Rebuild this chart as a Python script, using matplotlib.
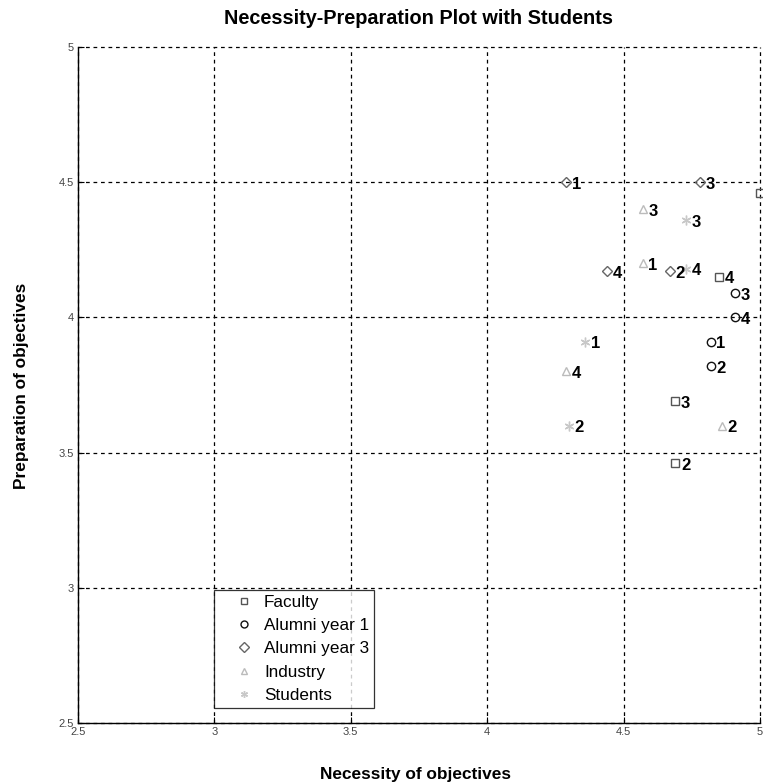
import matplotlib
matplotlib.use("Agg")
import matplotlib.pyplot as plt

plt.rcParams['font.family'] = ['Liberation Sans', 'DejaVu Sans']

groups = ["Faculty", "Alumni year 1", "Alumni year 3", "Industry", "Students"]
point_labels = ["1", "2", "3", "4"]

faculty_x = [5.00, 4.69, 4.69, 4.85]
faculty_y = [4.46, 3.46, 3.69, 4.15]
alumni1_x = [4.82, 4.82, 4.91, 4.91]
alumni1_y = [3.91, 3.82, 4.09, 4.00]
alumni3_x = [4.29, 4.67, 4.78, 4.44]
alumni3_y = [4.50, 4.17, 4.50, 4.17]
industry_x = [4.57, 4.86, 4.57, 4.29]
industry_y = [4.20, 3.60, 4.40, 3.80]
students_x = [4.36, 4.30, 4.73, 4.73]
students_y = [3.91, 3.60, 4.36, 4.18]

xs = [faculty_x, alumni1_x, alumni3_x, industry_x, students_x]
ys = [faculty_y, alumni1_y, alumni3_y, industry_y, students_y]
markers = ['s', 'o', 'D', '^', (6, 2, 0)]
msizes = [6, 6, 5, 6, 7]
colors = ['#555555', '#111111', '#666666', '#bbbbbb', '#c8c8c8']

fig = plt.figure(figsize=(7.63, 7.82), dpi=100)
ax = fig.add_axes([0.102, 0.0754, 0.894, 0.8646])

for gx, gy, m, ms, c, name in zip(xs, ys, markers, msizes, colors, groups):
    if isinstance(m, tuple):
        ax.plot(gx, gy, linestyle='none', marker=m, markersize=ms, color=c,
                markeredgewidth=1.0, label=name, clip_on=False, zorder=3)
    else:
        ax.plot(gx, gy, linestyle='none', marker=m, markersize=ms,
                markerfacecolor='none', markeredgecolor=c, markeredgewidth=1.0,
                label=name, clip_on=False, zorder=3)
    for px, py, lab in zip(gx, gy, point_labels):
        t = ax.annotate(lab, (px, py), xytext=(4, -1.5), textcoords='offset points',
                        ha='left', va='center', fontsize=12, fontweight='bold',
                        color='black', zorder=4)
        t.set_clip_on(True)

ax.set_xlim(2.5, 5)
ax.set_ylim(2.5, 5)
ax.set_xticks([2.5, 3, 3.5, 4, 4.5, 5])
ax.set_xticklabels(["2.5", "3", "3.5", "4", "4.5", "5"])
ax.set_yticks([2.5, 3, 3.5, 4, 4.5, 5])
ax.set_yticklabels(["2.5", "3", "3.5", "4", "4.5", "5"])
ax.tick_params(direction='in', length=4, labelsize=8, labelcolor='#444444',
               width=0.8, top=False, right=False, pad=3)
ax.grid(True, linestyle=(0, (3, 3)), color='black', linewidth=0.9)
for g in ax.get_xgridlines() + ax.get_ygridlines():
    g.set_clip_on(False)
ax.spines['top'].set_visible(False)
ax.spines['right'].set_visible(False)
ax.spines['left'].set_linewidth(1.0)
ax.spines['bottom'].set_linewidth(1.0)

fig.text(418 / 763, 1 - 18 / 782, "Necessity-Preparation Plot with Students",
         ha='center', va='center', fontsize=14.3, fontweight='bold')
fig.text(415 / 763, 1 - 774 / 782, "Necessity of objectives",
         ha='center', va='center', fontsize=12.4, fontweight='bold')
fig.text(22 / 763, 1 - 386 / 782, "Preparation of objectives", rotation=90,
         ha='center', va='center', fontsize=12.4, fontweight='bold')

leg = ax.legend(loc='upper left', bbox_to_anchor=(0.199, 0.197),
                fontsize=12.3, frameon=True, fancybox=False, edgecolor='black',
                handlelength=3.0, handletextpad=-0.35, labelspacing=0.48,
                borderpad=0.3, borderaxespad=0.0)
leg.get_frame().set_linewidth(0.9)
leg.set_zorder(5)
for h in leg.legend_handles:
    h.set_markersize(5)

fig.savefig("out.png", dpi=100)
